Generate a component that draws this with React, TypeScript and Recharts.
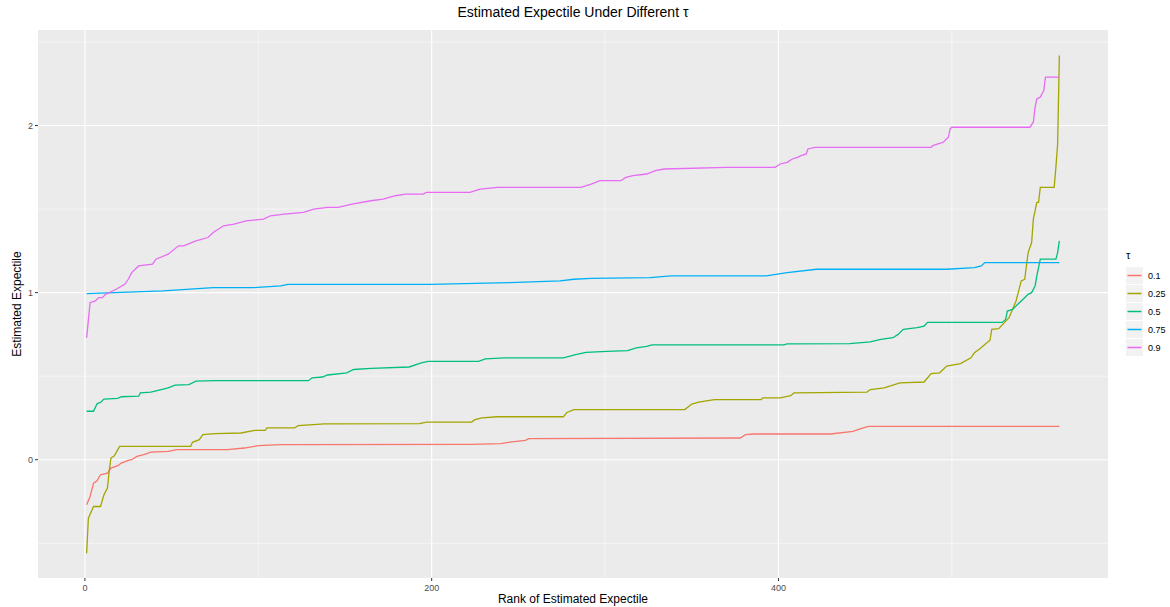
import { LineChart, Line, XAxis, YAxis, CartesianGrid } from "recharts";

// [rank, estimated expectile]
const tau01: [number, number][] = [
  [1, -0.27], [3, -0.22], [5, -0.14], [7, -0.126], [9, -0.09], [13, -0.08], [15, -0.05],
  [19, -0.036], [21, -0.02], [25, -0.004], [27, 0], [30, 0.02], [34, 0.03], [38, 0.046],
  [48, 0.05], [53, 0.06], [82, 0.06], [92, 0.07], [100, 0.084], [113, 0.09], [222, 0.092],
  [240, 0.096], [244, 0.104], [254, 0.116], [256, 0.126], [378, 0.13], [381, 0.15],
  [386, 0.154], [430, 0.154], [443, 0.17], [447, 0.184], [452, 0.2], [562, 0.2],
];

const tau025: [number, number][] = [
  [1, -0.56], [2, -0.35], [5, -0.28], [9, -0.28], [11, -0.21], [13, -0.17], [14, -0.07],
  [15, 0.01], [17, 0.024], [20, 0.08], [61, 0.08], [62, 0.104], [66, 0.12], [68, 0.15],
  [75, 0.156], [90, 0.16], [98, 0.176], [104, 0.176], [105, 0.19], [121, 0.19], [123, 0.204],
  [138, 0.214], [193, 0.216], [197, 0.225], [223, 0.225], [225, 0.24], [229, 0.25],
  [238, 0.257], [276, 0.257], [278, 0.283], [282, 0.3], [346, 0.3], [350, 0.333],
  [354, 0.345], [363, 0.36], [390, 0.36], [391, 0.37], [401, 0.37], [407, 0.383], [409, 0.4],
  [451, 0.405], [453, 0.42], [461, 0.43], [470, 0.46], [484, 0.465], [488, 0.515],
  [493, 0.52], [497, 0.56], [505, 0.575], [511, 0.61], [513, 0.64], [516, 0.663],
  [519, 0.69], [522, 0.715], [523, 0.78], [527, 0.784], [533, 0.85], [535, 0.9], [537, 0.95],
  [540, 1.07], [542, 1.08], [544, 1.24], [546, 1.3], [547, 1.44], [549, 1.54], [550, 1.54],
  [551, 1.63], [559, 1.63], [560, 1.75], [561, 1.89], [562, 2.42],
];

const tau05: [number, number][] = [
  [1, 0.29], [5, 0.29], [7, 0.335], [9, 0.343], [11, 0.363], [19, 0.367], [21, 0.377],
  [31, 0.38], [32, 0.4], [38, 0.405], [44, 0.42], [48, 0.43], [52, 0.447], [60, 0.45],
  [64, 0.47], [75, 0.473], [129, 0.473], [131, 0.49], [137, 0.495], [140, 0.507],
  [151, 0.52], [155, 0.54], [165, 0.547], [187, 0.555], [194, 0.579], [198, 0.589],
  [227, 0.589], [231, 0.603], [242, 0.609], [276, 0.61], [283, 0.629], [289, 0.643],
  [301, 0.649], [313, 0.653], [318, 0.669], [324, 0.679], [327, 0.687], [403, 0.687],
  [405, 0.693], [441, 0.695], [453, 0.705], [459, 0.72], [466, 0.73], [469, 0.75],
  [472, 0.78], [480, 0.79], [484, 0.8], [486, 0.822], [529, 0.822], [531, 0.84], [532, 0.89],
  [535, 0.9], [538, 0.93], [540, 0.95], [544, 0.99], [546, 1.0], [548, 1.04], [549, 1.1],
  [551, 1.2], [560, 1.2], [561, 1.24], [562, 1.31],
];

const tau075: [number, number][] = [
  [1, 0.994], [17, 1.0], [45, 1.01], [74, 1.03], [97, 1.03], [113, 1.04], [117, 1.05],
  [199, 1.05], [245, 1.06], [274, 1.07], [282, 1.08], [292, 1.085], [326, 1.09], [338, 1.1],
  [393, 1.1], [405, 1.12], [422, 1.14], [497, 1.14], [513, 1.15], [517, 1.16], [519, 1.18],
  [562, 1.18],
];

const tau09: [number, number][] = [
  [1, 0.73], [3, 0.94], [6, 0.95], [8, 0.97], [10, 0.97], [12, 0.99], [18, 1.02], [23, 1.05],
  [25, 1.08], [27, 1.12], [31, 1.16], [39, 1.17], [41, 1.2], [48, 1.23], [54, 1.28],
  [57, 1.28], [64, 1.31], [71, 1.33], [74, 1.36], [80, 1.4], [86, 1.41], [93, 1.43],
  [103, 1.44], [107, 1.46], [115, 1.47], [126, 1.48], [132, 1.5], [140, 1.51], [146, 1.51],
  [154, 1.53], [165, 1.55], [172, 1.56], [179, 1.58], [185, 1.59], [195, 1.59], [197, 1.6],
  [222, 1.6], [228, 1.62], [238, 1.63], [286, 1.63], [292, 1.65], [297, 1.67], [309, 1.67],
  [312, 1.69], [316, 1.7], [324, 1.71], [329, 1.73], [334, 1.74], [370, 1.75], [398, 1.75],
  [401, 1.77], [405, 1.78], [408, 1.8], [411, 1.81], [413, 1.82], [416, 1.83], [417, 1.86],
  [421, 1.87], [488, 1.87], [489, 1.88], [492, 1.89], [495, 1.9], [498, 1.93], [499, 1.98],
  [500, 1.99], [545, 1.99], [547, 2.02], [548, 2.11], [549, 2.16], [551, 2.17], [552, 2.19],
  [553, 2.21], [554, 2.29], [562, 2.29],
];

const tauLabels = ["0.1", "0.25", "0.5", "0.75", "0.9"];
const tauColors = ["#F8766D", "#A3A500", "#00BF7D", "#00B0F6", "#E76BF3"];
const allSeries = [tau01, tau025, tau05, tau075, tau09];

const xTicks = [0, 200, 400];
const xMinor = [100, 300, 500];
const yTicks = [0, 1, 2];
const yMinor = [-0.5, 0.5, 1.5, 2.5];

const FONT = '"Liberation Sans", Arial, Helvetica, sans-serif';

const toPoints = (s: [number, number][]) => s.map(([x, y]) => ({ x, y }));

export default function App() {
  return (
    <div style={{ position: "absolute", left: 0, top: 0, width: 1170, height: 607, background: "#fff", fontFamily: FONT }}>
      <div style={{ position: "absolute", left: 0, width: 1146, top: 4, textAlign: "center", fontSize: 14, color: "#000" }}>
        Estimated Expectile Under Different τ
      </div>
      <LineChart width={1170} height={607} margin={{ top: 30, right: 62, bottom: 0, left: 8 }}>
        <CartesianGrid
          fill="#EBEBEB"
          stroke="#FFFFFF"
          strokeWidth={0.55}
          horizontalValues={yMinor}
          verticalValues={xMinor}
        />
        <CartesianGrid
          stroke="#FFFFFF"
          strokeWidth={1.1}
          horizontalValues={yTicks}
          verticalValues={xTicks}
        />
        <XAxis
          type="number"
          dataKey="x"
          domain={[-27.05, 590.05]}
          ticks={xTicks}
          allowDataOverflow
          axisLine={false}
          tickLine={{ stroke: "#333333" }}
          tickSize={3}
          tickMargin={4}
          height={29}
          tick={{ fontSize: 9, fill: "#4D4D4D", fontFamily: FONT }}
        />
        <YAxis
          type="number"
          dataKey="y"
          domain={[-0.708, 2.572]}
          ticks={yTicks}
          allowDataOverflow
          axisLine={false}
          tickLine={{ stroke: "#333333" }}
          tickSize={3}
          tickMargin={2}
          width={30}
          tick={{ fontSize: 9, fill: "#4D4D4D", fontFamily: FONT }}
        />
        {allSeries.map((s, i) => (
          <Line
            key={tauLabels[i]}
            data={toPoints(s)}
            dataKey="y"
            type="linear"
            stroke={tauColors[i]}
            strokeWidth={1.3}
            dot={false}
            activeDot={false}
            isAnimationActive={false}
          />
        ))}
      </LineChart>
      <div style={{ position: "absolute", left: 0, width: 1146, top: 592, textAlign: "center", fontSize: 12, color: "#000" }}>
        Rank of Estimated Expectile
      </div>
      <div
        style={{
          position: "absolute",
          left: 17,
          top: 304,
          transform: "translate(-50%, -50%) rotate(-90deg)",
          fontSize: 12,
          whiteSpace: "nowrap",
          color: "#000",
        }}
      >
        Estimated Expectile
      </div>
      <div style={{ position: "absolute", left: 1126, top: 249, fontSize: 11, color: "#000" }}>τ</div>
      {tauLabels.map((lab, i) => (
        <div key={lab} style={{ position: "absolute", left: 1126, top: 267 + i * 18, height: 17, display: "flex", alignItems: "center" }}>
          <svg width={17} height={17} style={{ display: "block" }}>
            <rect x={0} y={0} width={17} height={17} fill="#F2F2F2" />
            <line x1={1.5} x2={15.5} y1={8.5} y2={8.5} stroke={tauColors[i]} strokeWidth={1.5} />
          </svg>
          <span style={{ marginLeft: 5, fontSize: 9, color: "#000" }}>{lab}</span>
        </div>
      ))}
    </div>
  );
}
